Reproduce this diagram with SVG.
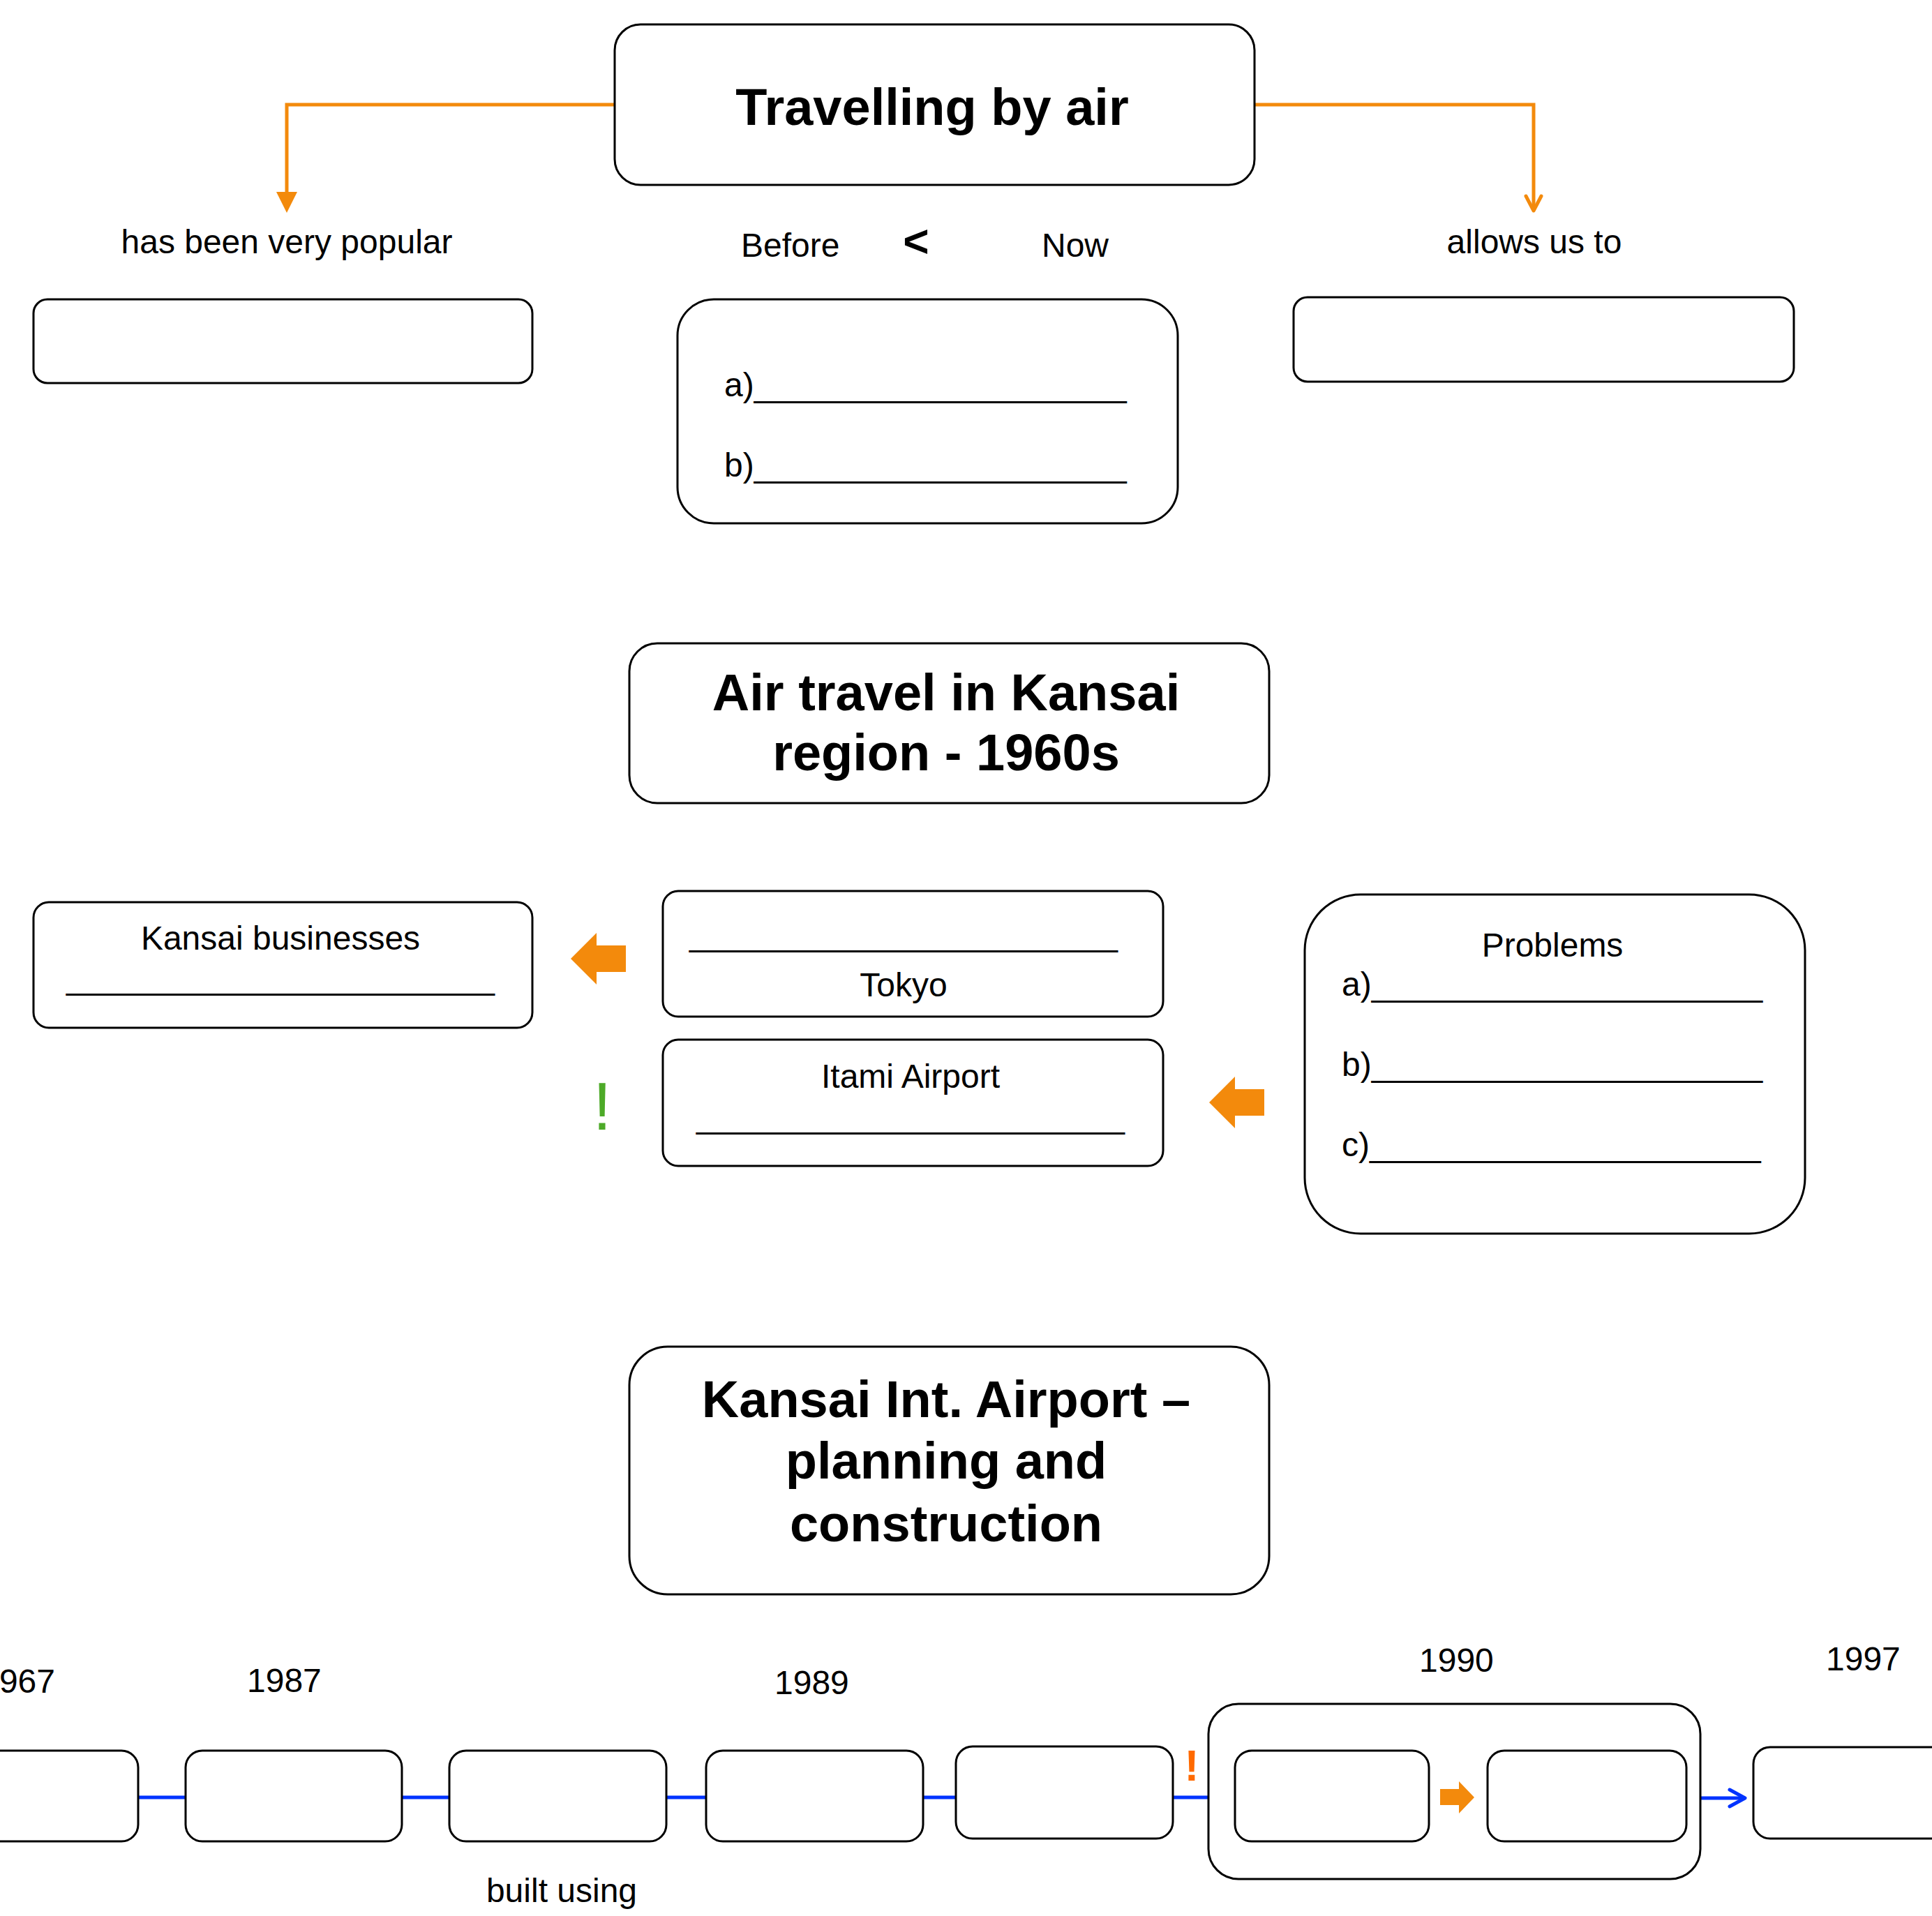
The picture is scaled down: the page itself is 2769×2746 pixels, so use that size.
<svg xmlns="http://www.w3.org/2000/svg" width="2769" height="2746" viewBox="0 0 2769 2746">
<style>
.box{fill:#fff;stroke:#000;stroke-width:3}
.t{font-family:"Liberation Sans",Arial,sans-serif;font-size:48px;fill:#000}
.c{text-anchor:middle}
.h{font-family:"Liberation Sans",Arial,sans-serif;font-size:74px;font-weight:bold;fill:#000;text-anchor:middle}
.or{fill:none;stroke:#F38A0C;stroke-width:5}
.bl{fill:none;stroke:#0033FF;stroke-width:5}
.ofill{fill:#F38A0C;stroke:none}
</style>
<rect width="2769" height="2746" fill="#fff"/>
<g id="connectors">
  <path class="or" d="M881,150 H411 V280"/>
  <polygon class="ofill" points="396,275 426,275 411,305"/>
  <path class="or" d="M1798,150 H2198 V300"/>
  <path class="or" d="M2187,281 L2198,302 L2209,281" stroke-linecap="round" stroke-linejoin="round"/>
  <path class="bl" d="M198,2576 H266 M576,2576 H644 M955,2576 H1012 M1323,2576 H1370 M1681,2576 H1732"/>
  <path class="bl" d="M2437,2577 H2499"/>
  <path class="bl" d="M2479,2565 L2501,2577 L2479,2589" stroke-linecap="round" stroke-linejoin="round"/>
</g>
<g id="title-travelling">
  <rect class="box" x="881" y="35" width="917" height="230" rx="37"/>
  <text class="h" x="1336" y="179">Travelling by air</text>
</g>
<g id="label-popular">
  <text class="t c" x="411" y="363">has been very popular</text>
</g>
<g id="label-before-now">
  <text class="t" x="1062" y="368">Before</text>
  <text class="t c" x="1313" y="368" font-size="64" font-weight="bold" style="font-size:64px">&lt;</text>
  <text class="t" x="1493" y="368">Now</text>
</g>
<g id="label-allows">
  <text class="t c" x="2199" y="363">allows us to</text>
</g>
<g id="box-popular">
  <rect class="box" x="48" y="429" width="715" height="120" rx="20"/>
</g>
<g id="box-before-now">
  <rect class="box" x="971" y="429" width="717" height="321" rx="52"/>
  <text class="t" x="1038" y="568">a)____________________</text>
  <text class="t" x="1038" y="683">b)____________________</text>
</g>
<g id="box-allows">
  <rect class="box" x="1854" y="426" width="717" height="121" rx="20"/>
</g>
<g id="title-kansai-1960s">
  <rect class="box" x="902" y="922" width="917" height="229" rx="40"/>
  <text class="h" x="1356" y="1018">Air travel in Kansai</text>
  <text class="h" x="1356" y="1104">region - 1960s</text>
</g>
<g id="box-kansai-businesses">
  <rect class="box" x="48" y="1293" width="715" height="180" rx="22"/>
  <text class="t c" x="402" y="1361">Kansai businesses</text>
  <text class="t c" x="402" y="1417">_______________________</text>
</g>
<g id="arrow-left-1">
  <polygon class="ofill" points="818,1374 855,1337 855,1355 897,1355 897,1393 855,1393 855,1411"/>
</g>
<g id="box-tokyo">
  <rect class="box" x="950" y="1277" width="717" height="180" rx="22"/>
  <text class="t c" x="1295" y="1355">_______________________</text>
  <text class="t c" x="1295" y="1428">Tokyo</text>
</g>
<g id="box-itami">
  <rect class="box" x="950" y="1490" width="717" height="181" rx="22"/>
  <text class="t c" x="1305" y="1559">Itami Airport</text>
  <text class="t c" x="1305" y="1616">_______________________</text>
</g>
<g id="excl-green">
  <text x="863" y="1619" text-anchor="middle" style="font-family:'Liberation Sans',Arial,sans-serif;font-size:96px;fill:#4DAA28">!</text>
</g>
<g id="arrow-left-2">
  <polygon class="ofill" points="1733,1580 1770,1543 1770,1561 1812,1561 1812,1599 1770,1599 1770,1617"/>
</g>
<g id="box-problems">
  <rect class="box" x="1870" y="1282" width="717" height="486" rx="80"/>
  <text class="t c" x="2225" y="1371">Problems</text>
  <text class="t" x="1923" y="1427">a)_____________________</text>
  <text class="t" x="1923" y="1542">b)_____________________</text>
  <text class="t" x="1923" y="1657">c)_____________________</text>
</g>
<g id="title-kix">
  <rect class="box" x="902" y="1930" width="917" height="355" rx="55"/>
  <text class="h" x="1356" y="2031">Kansai Int. Airport –</text>
  <text class="h" x="1356" y="2119">planning and</text>
  <text class="h" x="1356" y="2209">construction</text>
</g>
<g id="tl-1967">
  <text class="t" x="79" y="2426" text-anchor="end">1967</text>
  <rect class="box" x="-112" y="2509" width="310" height="130" rx="24"/>
</g>
<g id="tl-1987">
  <text class="t" x="354" y="2425">1987</text>
  <rect class="box" x="266" y="2509" width="310" height="130" rx="24"/>
</g>
<g id="tl-built">
  <rect class="box" x="644" y="2509" width="311" height="130" rx="24"/>
  <text class="t c" x="805" y="2726">built using</text>
</g>
<g id="tl-1989">
  <text class="t" x="1110" y="2428">1989</text>
  <rect class="box" x="1012" y="2509" width="311" height="130" rx="24"/>
</g>
<g id="tl-1989b">
  <rect class="box" x="1370" y="2503" width="311" height="132" rx="24"/>
</g>
<g id="excl-orange">
  <text x="1708" y="2552" text-anchor="middle" style="font-family:'Liberation Sans',Arial,sans-serif;font-size:63px;font-weight:bold;fill:#FF6A00">!</text>
</g>
<g id="tl-1990">
  <text class="t" x="2034" y="2396">1990</text>
  <rect class="box" x="1732" y="2442" width="705" height="251" rx="43"/>
  <rect class="box" x="1770" y="2509" width="278" height="130" rx="24"/>
  <polygon class="ofill" points="2064,2564 2091,2564 2091,2553 2113,2576 2091,2599 2091,2587 2064,2587"/>
  <rect class="box" x="2132" y="2509" width="285" height="130" rx="24"/>
</g>
<g id="tl-1997">
  <text class="t" x="2617" y="2394">1997</text>
  <rect class="box" x="2513" y="2504" width="310" height="131" rx="24"/>
</g>
</svg>
